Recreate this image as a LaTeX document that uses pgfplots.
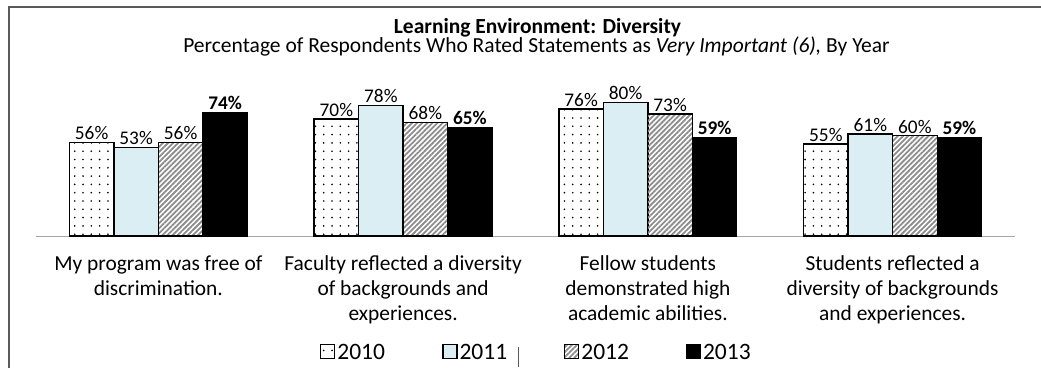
\documentclass[border=0pt]{standalone}
\usepackage{pgfplots}
\pgfplotsset{compat=1.18}
\usepackage{fontspec}
\setmainfont{Carlito}
\usetikzlibrary{patterns.meta}
\definecolor{lblue}{HTML}{DBEEF4}
\definecolor{hatchgray}{HTML}{8C8C8C}
\definecolor{framegray}{HTML}{5A5A5A}
\begin{document}
\begin{tikzpicture}[x=1pt,y=1pt]
\begin{axis}[
  at={(36pt,131pt)}, anchor=south west,
  scale only axis,
  width=979pt, height=150.3pt,
  ymin=0, ymax=90,
  xmin=-0.5, xmax=3.5,
  ybar=0pt, bar width=44.5pt,
  axis x line*=bottom, axis y line=none,
  x axis line style={draw=gray!70, line width=1pt},
  xtick={0,1,2,3},
  xticklabels={{My program was free of\\discrimination.},{Faculty reflected a diversity\\of backgrounds and\\experiences.},{Fellow students\\demonstrated high\\academic abilities.},{Students reflected a\\diversity of backgrounds\\and experiences.}},
  xticklabel style={align=center, font=\fontsize{21.4}{25}\selectfont, yshift=-16pt},
  major tick length=0pt,
  ytick=\empty,
  nodes near coords={\pgfmathprintnumber[assume math mode=true]{\pgfplotspointmeta}\%},
  every node near coord/.append style={font=\fontsize{19.3}{23}\selectfont, inner sep=2pt},
  legend style={at={(rel axis cs:0.511,-0.775)}, anchor=center, draw=none, fill=none,
    legend columns=4, font=\fontsize{23.5}{28}\selectfont,
    /tikz/every even column/.append style={column sep=55pt}},
  legend image code/.code={\draw[#1] (0pt,-6pt) rectangle (14pt,8pt);},
  clip=false,
]
\addplot[draw=black, line width=1.5pt, pattern={Dots[distance=8.3pt, radius=0.9pt]}, pattern color=black]
  coordinates {(0,56) (1,70) (2,76) (3,55)};
\addlegendentry{2010}
\addplot[draw=black, line width=1.5pt, fill=lblue]
  coordinates {(0,53) (1,78) (2,80) (3,61)};
\addlegendentry{2011}
\addplot[draw=black, line width=1.2pt, pattern={Lines[angle=45, distance=3.6pt, line width=1.8pt]}, pattern color=hatchgray]
  coordinates {(0,56) (1,68) (2,73) (3,60)};
\addlegendentry{2012}
\addplot[draw=black, line width=1pt, fill=black, every node near coord/.append style={font=\bfseries\fontsize{19.3}{23}\selectfont}]
  coordinates {(0,74) (1,65) (2,59) (3,59)};
\addlegendentry{2013}
\end{axis}
\node[anchor=base, inner sep=0pt, font=\bfseries\fontsize{21.5}{24}\selectfont] at (537.5pt,333pt) {Learning Environment: Diversity};
\node[anchor=base, inner sep=0pt, font=\fontsize{21.5}{24}\selectfont] at (536.5pt,314.5pt) {Percentage of Respondents Who Rated Statements as \textit{Very Important (6),} By Year};
\draw[framegray, line width=2pt] (9pt,-2pt) -- (9pt,360pt) -- (1043pt,360pt);
\draw[framegray, line width=0.8pt] (518pt,0pt) -- (518pt,20pt);
\pgfresetboundingbox
\path[use as bounding box] (0pt,0pt) rectangle (1041pt,367pt);
\end{tikzpicture}
\end{document}
